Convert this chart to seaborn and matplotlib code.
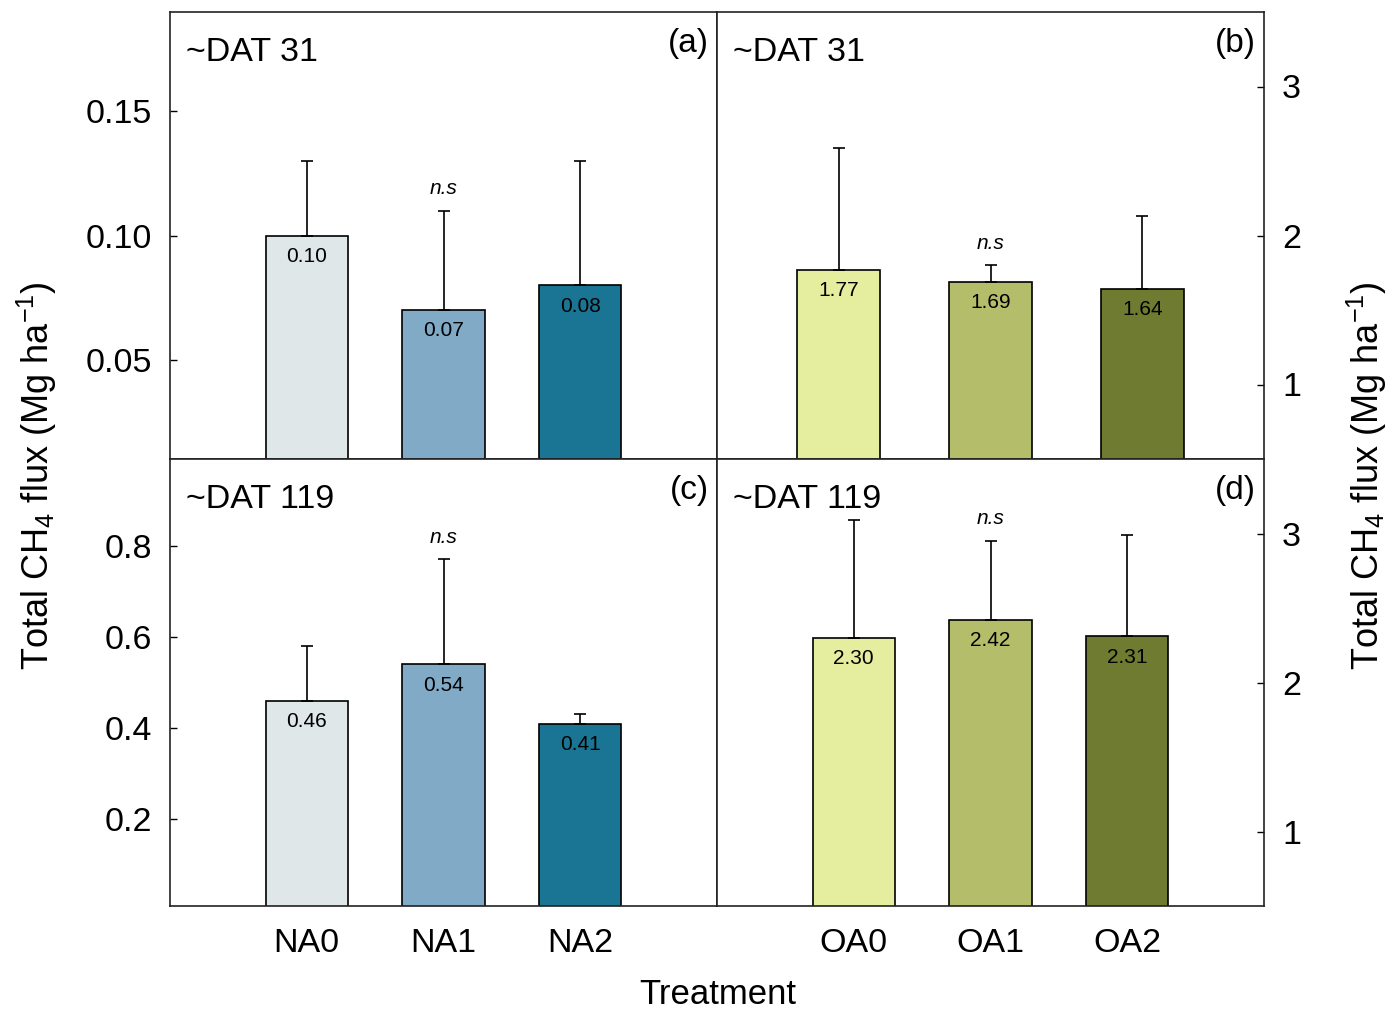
import numpy as np
import pandas as pd
import matplotlib
matplotlib.use("Agg")
import matplotlib.pyplot as plt
import seaborn as sns

# --- data ---
na_labels = ["NA0", "NA1", "NA2"]
oa_labels = ["OA0", "OA1", "OA2"]

na_colors = ["#dfe7e9", "#80aac6", "#1a7595"]
oa_colors = ["#e5ed9f", "#b4be6a", "#6f7b30"]

# ~DAT 31
na_31 = [0.10, 0.07, 0.08]
na_31_err = [0.03, 0.04, 0.05]
oa_31 = [1.77, 1.69, 1.64]
oa_31_err = [0.82, 0.11, 0.49]

# ~DAT 119
na_119 = [0.46, 0.54, 0.41]
na_119_err = [0.12, 0.23, 0.02]
oa_119 = [2.30, 2.42, 2.31]
oa_119_err = [0.79, 0.53, 0.68]

sns.set_style("ticks")
plt.rcParams['font.family'] = ['Liberation Sans', 'DejaVu Sans']
plt.rcParams['mathtext.default'] = 'regular'
for key in ['text.color', 'axes.labelcolor', 'xtick.color', 'ytick.color']:
    plt.rcParams[key] = 'black'

fig = plt.figure(figsize=(13.95, 10.19), dpi=100)

L, W = 170 / 1395, 547 / 1395
H = 447 / 1019
top_y = 1 - 459 / 1019
bot_y = 1 - 906 / 1019

panels = [
    # rect, labels, colors, vals, errs, ylim, yticks, fmt, xlim, width, day, letter, side, show_x
    ((L, top_y, W, H), na_labels, na_colors, na_31, na_31_err, (0.01, 0.19),
     [0.05, 0.10, 0.15], "{:.2f}", (-1, 3), 0.6, "~DAT 31", "(a)", "left", False),
    ((L + W, top_y, W, H), oa_labels, oa_colors, oa_31, oa_31_err, (0.5, 3.5),
     [1, 2, 3], "{:.0f}", (-0.8, 2.8), 0.55, "~DAT 31", "(b)", "right", False),
    ((L, bot_y, W, H), na_labels, na_colors, na_119, na_119_err, (0.01, 0.99),
     [0.2, 0.4, 0.6, 0.8], "{:.1f}", (-1, 3), 0.6, "~DAT 119", "(c)", "left", True),
    ((L + W, bot_y, W, H), oa_labels, oa_colors, oa_119, oa_119_err, (0.5, 3.5),
     [1, 2, 3], "{:.0f}", (-1, 3), 0.6, "~DAT 119", "(d)", "right", True),
]

for (rect, labels, colors, vals, errs, ylim, yticks, fmt, xlim, width,
     day, letter, side, show_x) in panels:
    ax = fig.add_axes(rect)
    df = pd.DataFrame({"treatment": labels, "flux": vals})
    sns.barplot(data=df, x="treatment", y="flux", hue="treatment",
                palette=colors, saturation=1, width=width, edgecolor="black",
                linewidth=1.2, errorbar=None, legend=False, ax=ax, zorder=2)
    xpos = np.arange(len(vals))
    ax.errorbar(xpos, vals, yerr=[np.zeros(len(errs)), errs], fmt="none",
                ecolor="black", elinewidth=1.2, capsize=4.5, capthick=1.2,
                zorder=3)

    # value labels inside bars
    for x, v in zip(xpos, vals):
        ax.annotate(f"{v:.2f}", (x, v), xytext=(0, -15),
                    textcoords="offset points", ha="center", va="center",
                    fontsize=15)
    # n.s above the middle bar
    ax.annotate("n.s", (1, vals[1] + errs[1]), xytext=(0, 16),
                textcoords="offset points", ha="center", va="center",
                fontsize=15, style="italic")

    ax.set_xlim(*xlim)
    ax.set_ylim(*ylim)
    ax.set_yticks(yticks)
    ax.set_yticklabels([fmt.format(t) for t in yticks])
    ax.set_xlabel("")
    ax.set_ylabel("")

    if side == "right":
        ax.yaxis.tick_right()
    ax.tick_params(axis="y", direction="in", length=5, width=1,
                   labelsize=24.5, pad=13)
    ax.tick_params(axis="x", length=0, labelsize=24.5, pad=16)
    if not show_x:
        ax.set_xticklabels([])

    for s in ax.spines.values():
        s.set_visible(True)
        s.set_linewidth(1.2)
        s.set_color("#222222")

    ax.text(0.03, 0.91, day, transform=ax.transAxes, fontsize=24.5,
            ha="left", va="center")
    ax.text(0.985, 0.93, letter, transform=ax.transAxes, fontsize=24,
            ha="right", va="center")

ylab = "Total CH$_4$ flux (Mg ha$^{-1}$)"
fig.text(37 / 1395, 1 - 476 / 1019, ylab, rotation=90, fontsize=26,
         ha="center", va="center")
fig.text(1367 / 1395, 1 - 476 / 1019, ylab, rotation=90, fontsize=26,
         ha="center", va="center")
fig.text(718 / 1395, 1 - 995 / 1019, "Treatment", fontsize=25,
         ha="center", va="center")

fig.savefig("out.png", dpi=100)
